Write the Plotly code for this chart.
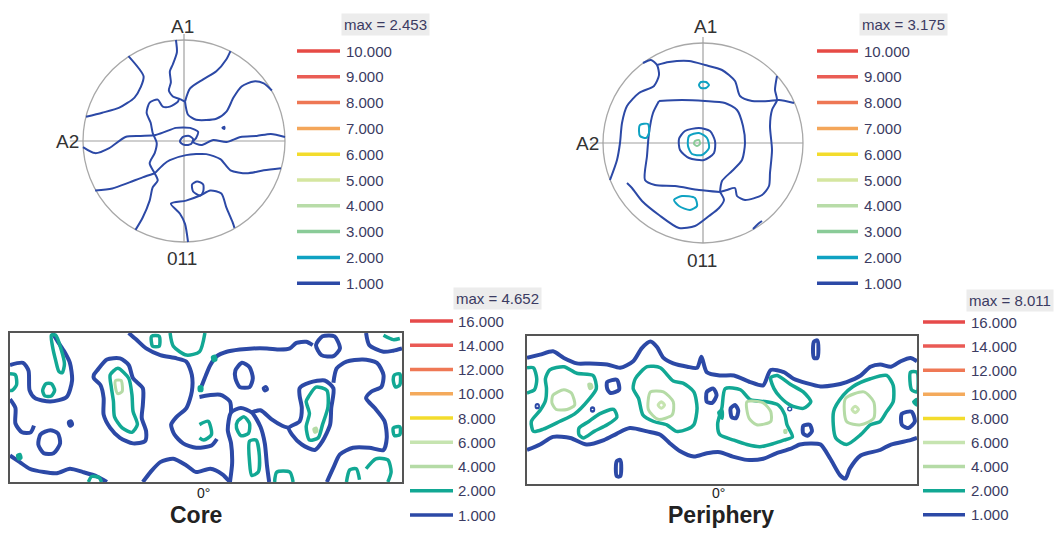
import plotly.graph_objects as go

W, H = 1063, 533

# ---------------- legend data ----------------
PF_LEVELS = [10, 9, 8, 7, 6, 5, 4, 3, 2, 1]
PF_COLORS = ['#e64a45', '#ea5d55', '#ee7754', '#f4a65a', '#f3dc2c',
             '#d5e6a0', '#b8dca8', '#8acb98', '#0fa2c2', '#2c49a6']
ODF_LEVELS = [16, 14, 12, 10, 8, 6, 4, 2, 1]
ODF_COLORS = ['#e64a4a', '#ea5a55', '#ef7855', '#f4aa5c', '#f3dc2c',
              '#c6e4b0', '#b5dba6', '#12a894', '#2c49a6']
PF_MAX = [2.453, 3.175]
ODF_MAX = [4.652, 8.011]
PF_AXIS_LABELS = ['A1', 'A2', '011']
ODF_TITLES = ['Core', 'Periphery']
ODF_ANGLE = '0°'

# ---------------- pole figure 1 (core), level 1 ----------------
PF1_LEVEL1 = [
    [(-55, 84), (-40, 64), (-43, 53), (-49, 43), (-64, 33), (-81, 28), (-97, 24)],
    [(-8, 100), (-7, 88), (-11, 76), (-14, 69), (-13, 58), (-15, 50), (-11, 44), (-5, 42), (1, 39)],
    [(46, 89), (42, 81), (32, 69), (19, 61), (6, 52), (1, 39)],
    [(87, 50), (79, 57), (69, 59), (57, 54), (49, 43), (42, 29), (32, 22), (12, 21), (4, 26), (1, 39)],
    [(-5, 42), (-6, 39), (-14, 34), (-21, 34), (-26, 41), (-34, 38), (-37, 28), (-33, 18), (-31, 8),
     (-27, -2), (-29, -12), (-34, -22), (-29, -32), (-26, -39), (-31, -46), (-34, -59), (-41, -76), (-48, -88)],
    [(-100, -6), (-88, -12), (-74, -7), (-58, 4), (-43, 5), (-28, 6), (-19, 9), (-8, 13), (6, 13), (14, 9),
     (12, 3), (9, -1), (17, -4), (29, 1), (42, -1), (56, 4), (72, 5), (86, 7), (100, 4)],
    [(-4, 0), (-1, 4), (5, 5), (9, 2), (7, -3), (1, -4), (-3, -2), (-4, 0)],
    [(-88, -49), (-71, -47), (-54, -41), (-41, -36), (-29, -32)],
    [(-29, -32), (-20, -23), (-14, -19), (2, -14), (22, -13), (36, -18), (46, -29), (62, -32), (79, -29), (96, -27)],
    [(4, -100), (1, -82), (-4, -72), (-13, -62), (2, -59), (16, -54), (26, -49), (37, -52), (42, -66), (48, -80), (50, -86)],
    [(16, -54), (9, -50), (8, -43), (13, -40), (19, -43), (19, -50), (16, -54)],
    [(38, 13), (40, 14), (40, 12), (38, 13)],
]

# ---------------- pole figure 2 (periphery) ----------------
PF2_LEVEL1 = [
    [(-60, 80), (-52, 83), (-46, 78), (-44, 68), (-49, 57), (-64, 50), (-76, 37), (-81, 20), (-83, 0),
     (-86, -17), (-93, -37)],
    [(-46, 78), (-34, 81), (-14, 82), (2, 78), (19, 73), (32, 62), (37, 47), (49, 42), (66, 42), (76, 43), (91, 40)],
    [(74, 67), (72, 53), (74, 43), (69, 33), (67, 17), (69, -7), (67, -30), (66, -43), (59, -52), (42, -57),
     (34, -53), (32, -45), (24, -47), (17, -49)],
    [(-44, 42), (-21, 43), (2, 42), (22, 40), (34, 33), (40, 17), (42, 0), (39, -17), (29, -28), (19, -38), (17, -49)],
    [(-44, 42), (-50, 30), (-54, 10), (-56, -13), (-58, -37), (-48, -42), (-28, -43), (-4, -47), (17, -49)],
    [(-76, -40), (-71, -45), (-61, -58), (-44, -72), (-24, -85), (-8, -83), (6, -73), (16, -65), (21, -57), (17, -49)],
    [(50, -86), (55, -81), (59, -78)],
    [(-24, 4), (-18, 12), (-4, 15), (7, 12), (12, 2), (11, -10), (1, -17), (-14, -15), (-23, -7), (-24, 4)],
]
PF2_LEVEL2 = [
    [(-14, 7), (-4, 10), (4, 5), (6, -5), (-1, -12), (-11, -11), (-15, -3), (-14, 7)],
    [(-4, 58), (-2, 61), (3, 61), (6, 58), (3, 55), (-2, 55), (-4, 58)],
    [(-63, 18), (-55, 19), (-54, 10), (-57, 5), (-63, 7), (-64, 12), (-63, 18)],
    [(-29, -57), (-21, -53), (-8, -55), (-6, -63), (-13, -67), (-24, -63), (-29, -57)],
]
PF2_LEVEL3 = [
    [(-8, 2), (-4, 3), (-3, -1), (-6, -3), (-9, -1), (-8, 2)],
]

# ---------------- ODF section, core (phi1 0-360, Phi 0-135) ----------------
CORE_LEVEL1 = [
    [(0, 29), (12, 27), (17, 34), (18, 52), (23, 59), (37, 62), (52, 58), (57, 43), (55, 27), (50, 17), (44, 8), (39, 0)],
    [(0, 60), (5, 68), (5, 82), (11, 90), (19, 90), (22, 84)],
    [(28, 92), (37, 88), (44, 91), (46, 100), (40, 109), (31, 109), (26, 101), (28, 92)],
    [(54, 81), (56, 80), (57, 83), (55, 84), (54, 81)],
    [(0, 111), (9, 117), (18, 123), (31, 126), (43, 127), (55, 123), (67, 126), (80, 130), (89, 135)],
    [(77, 38), (80, 34), (89, 24), (101, 23), (109, 29), (113, 41), (122, 50), (122, 65), (121, 77), (125, 89),
     (124, 98), (113, 100), (101, 95), (92, 86), (86, 74), (86, 59), (83, 47), (77, 41), (77, 38)],
    [(109, 0), (116, 6), (125, 14), (138, 20), (153, 23), (162, 26), (167, 38), (167, 53), (162, 68), (153, 76),
     (148, 83), (151, 92), (159, 100), (171, 104), (185, 102), (190, 96)],
    [(122, 135), (129, 126), (138, 117), (150, 114), (162, 120), (171, 126), (184, 123), (195, 128), (202, 135)],
    [(176, 48), (180, 38), (184, 29), (190, 21), (199, 17), (211, 15), (223, 14), (236, 14), (248, 15), (257, 14),
     (263, 9), (272, 8), (278, 11)],
    [(207, 34), (213, 27), (220, 31), (223, 41), (220, 49), (211, 49), (207, 41), (207, 34)],
    [(233, 50), (235, 49), (236, 51), (234, 52), (233, 50)],
    [(174, 58), (193, 56), (202, 62), (203, 72)],
    [(202, 135), (204, 118), (203, 100), (200, 88), (203, 72), (212, 68), (222, 72), (230, 85), (234, 100),
     (236, 120), (238, 135)],
    [(222, 72), (230, 70), (240, 78), (250, 84), (256, 86)],
    [(266, 50), (275, 45), (289, 43), (297, 50), (295, 68), (294, 83), (287, 98), (280, 106), (268, 101),
     (259, 92), (256, 86), (266, 80), (268, 68), (266, 57), (266, 50)],
    [(281, 11), (287, 3), (298, 3), (303, 14), (297, 21), (286, 20), (281, 11)],
    [(297, 45), (300, 32), (309, 26), (324, 24), (337, 27), (343, 38), (341, 49), (332, 53), (327, 59), (335, 68),
     (344, 80), (346, 95), (343, 106), (330, 104), (315, 104), (303, 110), (297, 122), (291, 135)],
    [(327, 0), (330, 11), (343, 17), (352, 16), (360, 14)],
]
CORE_LEVEL2 = [
    [(30, 52), (33, 46), (38, 46), (41, 52), (38, 57), (32, 57), (30, 52)],
    [(38, 2), (42, 2), (47, 15), (50, 28), (48, 36), (45, 35), (42, 25), (39, 12), (38, 2)],
    [(0, 37), (5, 38), (6, 47), (2, 52), (0, 52)],
    [(7, 111), (9, 110), (10, 113), (8, 114), (7, 111)],
    [(72, 135), (75, 130), (82, 131), (84, 135)],
    [(92, 38), (99, 32), (109, 41), (112, 56), (113, 71), (117, 83), (112, 90), (103, 86), (96, 76), (95, 62),
     (93, 49), (92, 38)],
    [(130, 3), (137, 3), (137, 12), (131, 12), (130, 3)],
    [(147, 0), (150, 12), (162, 20), (174, 17), (179, 0)],
    [(174, 49), (176, 49), (176, 52), (174, 52), (174, 49)],
    [(174, 83), (182, 80), (185, 92), (178, 97), (174, 95)],
    [(186, 22), (188, 21), (189, 24), (187, 25), (186, 22)],
    [(274, 58), (281, 49), (291, 52), (292, 67), (287, 83), (283, 95), (275, 97), (272, 85), (275, 73), (272, 62),
     (274, 58)],
    [(343, 2), (352, 6), (358, 5)],
    [(353, 38), (358, 37), (358, 47), (354, 49), (352, 43), (353, 38)],
    [(352, 86), (358, 85), (358, 92), (353, 93), (352, 86)],
    [(220, 98), (226, 97), (229, 111), (228, 126), (222, 129), (220, 117), (220, 98)],
    [(243, 135), (245, 126), (257, 126), (260, 135)],
    [(309, 135), (312, 124), (318, 123), (321, 133)],
    [(327, 123), (336, 114), (347, 115), (350, 126), (347, 135)],
    [(209, 80), (215, 76), (220, 82), (219, 91), (212, 93), (208, 86), (209, 80)],
]
CORE_LEVEL4 = [
    [(97, 43), (102, 43), (103, 53), (99, 55), (97, 50), (97, 43)],
    [(279, 87), (281, 86), (282, 89), (280, 90), (279, 87)],
]

# ---------------- ODF section, periphery ----------------
PERI_LEVEL1 = [
    [(0, 20), (12, 17), (24, 14), (34, 20), (46, 25), (58, 25), (74, 26), (86, 29), (98, 23), (106, 11), (114, 5),
     (120, 10), (126, 20), (135, 25), (148, 28), (157, 29), (161, 19), (166, 33), (178, 36), (191, 36), (206, 42),
     (218, 45), (225, 31), (237, 33), (246, 39), (258, 43), (271, 46), (283, 45), (295, 42), (308, 36), (317, 28),
     (326, 26), (336, 28), (345, 23), (354, 20), (360, 23)],
    [(0, 104), (12, 99), (24, 92), (40, 93), (55, 99), (71, 95), (83, 89), (95, 84), (111, 87), (123, 90), (132, 98),
     (141, 105), (154, 110), (166, 107), (178, 106), (190, 110), (203, 113), (218, 112), (230, 107), (243, 103),
     (252, 99), (262, 98), (271, 99), (280, 112), (289, 127), (294, 130), (298, 121), (308, 109), (326, 104),
     (336, 99), (354, 95), (360, 93)],
    [(74, 42), (83, 40), (85, 49), (77, 52), (74, 48), (74, 42)],
    [(9, 63), (10, 63), (10, 65), (9, 65), (9, 63)],
    [(60, 66), (61, 66), (61, 68), (60, 68), (60, 66)],
    [(166, 51), (172, 48), (175, 54), (171, 61), (166, 60), (166, 51)],
    [(83, 114), (86, 113), (87, 121), (86, 128), (83, 128), (82, 121), (83, 114)],
    [(265, 5), (268, 4), (269, 12), (268, 20), (265, 20), (264, 12), (265, 5)],
    [(188, 66), (192, 63), (195, 68), (193, 75), (189, 74), (188, 66)],
    [(255, 82), (261, 81), (263, 87), (259, 91), (255, 89), (255, 82)],
    [(242, 66), (243, 66), (243, 67), (242, 67), (242, 66)],
    [(346, 71), (355, 69), (358, 78), (352, 84), (346, 81), (346, 71)],
]
PERI_LEVEL2 = [
    [(0, 29), (6, 29), (9, 39), (7, 49), (0, 52)],
    [(17, 39), (21, 31), (34, 28), (46, 34), (61, 36), (64, 48), (57, 58), (44, 71), (30, 78), (15, 85), (6, 87),
     (4, 78), (12, 68), (17, 59), (18, 48), (17, 39)],
    [(48, 84), (57, 78), (67, 71), (80, 67), (83, 74), (74, 81), (62, 87), (52, 93), (48, 90), (48, 84)],
    [(100, 39), (111, 28), (123, 29), (135, 41), (144, 43), (154, 51), (157, 66), (154, 81), (148, 85), (138, 87),
     (129, 81), (117, 78), (107, 72), (103, 57), (98, 48), (100, 39)],
    [(177, 70), (180, 68), (180, 75), (177, 70)],
    [(183, 48), (197, 49), (206, 58), (221, 60), (232, 63), (238, 72), (240, 81), (245, 92), (237, 95), (228, 98),
     (215, 101), (203, 99), (191, 95), (178, 90), (176, 80), (180, 65), (183, 48)],
    [(225, 38), (231, 36), (243, 44), (255, 51), (262, 60), (255, 66), (243, 63), (234, 56), (228, 48), (225, 38)],
    [(283, 69), (292, 54), (301, 46), (317, 39), (332, 36), (338, 45), (338, 60), (332, 69), (326, 78), (317, 81),
     (308, 90), (295, 99), (285, 93), (283, 69)],
    [(354, 33), (360, 33), (360, 51), (355, 49), (354, 33)],
    [(357, 60), (360, 58), (360, 63), (357, 60)],
]
PERI_LEVEL4 = [
    [(24, 54), (34, 49), (41, 52), (44, 63), (37, 67), (27, 67), (23, 61), (24, 54)],
    [(57, 44), (59, 44), (60, 47), (58, 48), (57, 44)],
    [(114, 51), (126, 51), (135, 60), (134, 72), (121, 76), (112, 67), (114, 51)],
    [(203, 60), (218, 61), (225, 69), (225, 78), (212, 81), (205, 75), (203, 60)],
    [(238, 86), (239, 86), (239, 88), (238, 88), (238, 86)],
    [(294, 57), (311, 51), (320, 60), (320, 75), (308, 81), (295, 78), (294, 57)],
]
PERI_LEVEL6 = [
    [(121, 63), (124, 60), (127, 63), (124, 66), (121, 63)],
    [(300, 67), (303, 64), (306, 67), (303, 70), (300, 67)],
]

# ---------------- figure ----------------
fig = go.Figure()


def add_paths(paths, color, width, xa, ya):
    for p in paths:
        fig.add_trace(go.Scatter(
            x=[q[0] for q in p], y=[q[1] for q in p], mode='lines',
            line=dict(color=color, width=width, shape='spline', smoothing=0.7),
            xaxis=xa, yaxis=ya, hoverinfo='skip', showlegend=False))


PF_C = dict(zip(PF_LEVELS, PF_COLORS))
OD_C = dict(zip(ODF_LEVELS, ODF_COLORS))

add_paths(PF1_LEVEL1, PF_C[1], 2, 'x', 'y')
add_paths(PF2_LEVEL1, PF_C[1], 2, 'x2', 'y2')
add_paths(PF2_LEVEL2, PF_C[2], 2, 'x2', 'y2')
add_paths(PF2_LEVEL3, PF_C[3], 2, 'x2', 'y2')

add_paths(CORE_LEVEL1, OD_C[1], 4, 'x3', 'y3')
add_paths(CORE_LEVEL2, OD_C[2], 3.5, 'x3', 'y3')
add_paths(CORE_LEVEL4, OD_C[4], 3, 'x3', 'y3')

add_paths(PERI_LEVEL1, OD_C[1], 4, 'x4', 'y4')
add_paths(PERI_LEVEL2, OD_C[2], 3.5, 'x4', 'y4')
add_paths(PERI_LEVEL4, OD_C[4], 3, 'x4', 'y4')
add_paths(PERI_LEVEL6, OD_C[6], 3, 'x4', 'y4')


def px(v):
    return v / W


def py(v):
    return 1 - v / H


hidden = dict(visible=False, showgrid=False, zeroline=False)
frame = dict(showgrid=False, zeroline=False, showticklabels=False, ticks='',
             showline=True, mirror=True, linecolor='#555555', linewidth=2)

# pole figure axes (radius 100 units)
s1 = 1.01
fig.update_layout(
    xaxis=dict(domain=[px(184 - 114 * s1), px(184 + 101 * s1)], range=[-114, 101], **hidden),
    yaxis=dict(domain=[py(141 + 101 * s1), py(141 - 107 * s1)], range=[-101, 107], anchor='x', **hidden),
    xaxis2=dict(domain=[px(703 - 114), px(703 + 101)], range=[-114, 101], anchor='y2', **hidden),
    yaxis2=dict(domain=[py(143 + 101), py(143 - 107)], range=[-101, 107], anchor='x2', **hidden),
    xaxis3=dict(domain=[px(10), px(402)], range=[0, 360], anchor='y3', **frame),
    yaxis3=dict(domain=[py(482), py(333)], range=[135, 0], anchor='x3', **frame),
    xaxis4=dict(domain=[px(527), px(917)], range=[0, 360], anchor='y4', **frame),
    yaxis4=dict(domain=[py(484), py(336)], range=[135, 0], anchor='x4', **frame),
)

shapes = []
annotations = []
lf = dict(family='Liberation Sans, Arial', size=19, color='#333333')
# (axis pair, centre px, label positions in px)
for xa, ya, cx, a1, a2, l011 in [('x', 'y', 184, (182, 26), (81, 141), (182, 258)),
                                  ('x2', 'y2', 703, (705, 26), (601, 143), (702, 260))]:
    shapes.append(dict(type='circle', xref=xa, yref=ya, x0=-100, y0=-100, x1=100, y1=100,
                       line=dict(color='#a8a8a8', width=1.3), layer='below'))
    shapes.append(dict(type='line', xref=xa, yref=ya, x0=-113, y0=0, x1=100, y1=0,
                       line=dict(color='#a0a0a0', width=1.2), layer='below'))
    shapes.append(dict(type='line', xref=xa, yref=ya, x0=0, y0=-100, x1=0, y1=106,
                       line=dict(color='#a0a0a0', width=1.2), layer='below'))
    annotations.append(dict(xref='paper', yref='paper', x=px(a1[0]), y=py(a1[1]), text=PF_AXIS_LABELS[0],
                            showarrow=False, font=lf, xanchor='center', yanchor='middle'))
    annotations.append(dict(xref='paper', yref='paper', x=px(a2[0]), y=py(a2[1]), text=PF_AXIS_LABELS[1],
                            showarrow=False, font=lf, xanchor='right', yanchor='middle'))
    annotations.append(dict(xref='paper', yref='paper', x=px(l011[0]), y=py(l011[1]), text=PF_AXIS_LABELS[2],
                            showarrow=False, font=lf, xanchor='center', yanchor='middle'))

leg_font = dict(family='Liberation Sans, Arial', size=15, color='#3b3b62')


def add_legend(lx0, lx1, tx, y0, dy, levels, colors, maxval, maxy):
    annotations.append(dict(xref='paper', yref='paper', x=px(tx - 3), y=py(maxy),
                            text='max = %.3f' % maxval, showarrow=False, font=leg_font,
                            xanchor='left', yanchor='middle', bgcolor='#ececec', borderpad=2))
    for k, (lv, c) in enumerate(zip(levels, colors)):
        yy = y0 + dy * k
        shapes.append(dict(type='line', xref='paper', yref='paper', x0=px(lx0), x1=px(lx1),
                           y0=py(yy), y1=py(yy), line=dict(color=c, width=3.5)))
        annotations.append(dict(xref='paper', yref='paper', x=px(tx), y=py(yy),
                                text='%.3f' % lv, showarrow=False, font=leg_font,
                                xanchor='left', yanchor='middle'))


add_legend(297, 340, 344, 51, 25.8, PF_LEVELS, PF_COLORS, PF_MAX[0], 24)
add_legend(817, 858, 862, 51, 25.8, PF_LEVELS, PF_COLORS, PF_MAX[1], 24)
add_legend(410, 453, 456, 321, 24.25, ODF_LEVELS, ODF_COLORS, ODF_MAX[0], 298)
add_legend(923, 965, 969, 322, 24.1, ODF_LEVELS, ODF_COLORS, ODF_MAX[1], 300)

tf = dict(family='Liberation Sans, Arial', size=14, color='#222222')
bf = dict(family='Liberation Sans, Arial', size=23, color='#222222')
for cx, ttl in [(203, ODF_TITLES[0]), (718, ODF_TITLES[1])]:
    annotations.append(dict(xref='paper', yref='paper', x=px(cx), y=py(493), text=ODF_ANGLE,
                            showarrow=False, font=tf, xanchor='center', yanchor='middle'))
for cx, ttl in [(196, ODF_TITLES[0]), (721, ODF_TITLES[1])]:
    annotations.append(dict(xref='paper', yref='paper', x=px(cx), y=py(515), text='<b>%s</b>' % ttl,
                            showarrow=False, font=bf, xanchor='center', yanchor='middle'))

fig.update_layout(width=W, height=H, margin=dict(l=0, r=0, t=0, b=0),
                  paper_bgcolor='white', plot_bgcolor='white', showlegend=False,
                  shapes=shapes, annotations=annotations)

fig.write_html('out.html', config={'displayModeBar': False},
               post_script="document.body.style.margin='0';document.body.style.overflow='hidden';")
